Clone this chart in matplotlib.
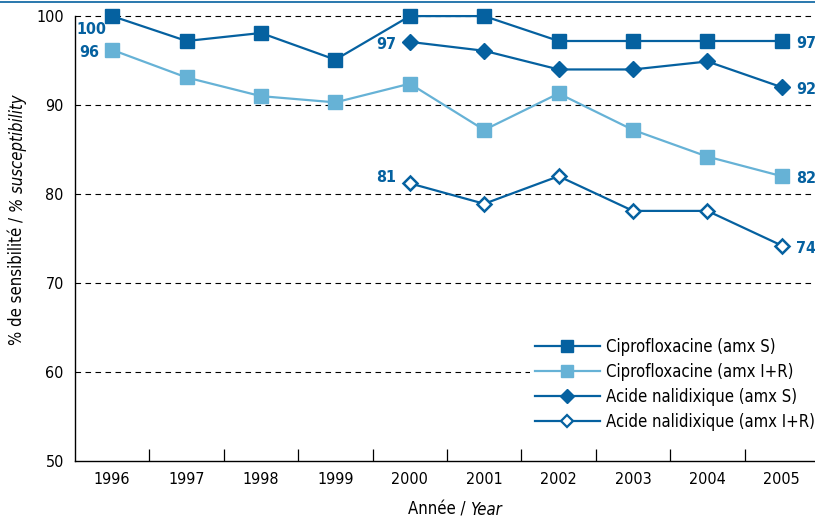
import matplotlib
matplotlib.use("Agg")
from matplotlib import pyplot as plt
from matplotlib.ticker import FixedLocator
from matplotlib.lines import Line2D
import numpy as np

years = ['1996', '1997', '1998', '1999', '2000', '2001', '2002', '2003', '2004', '2005']
cipro_s = [100, 97.2, 98.1, 95.1, 100, 100, 97.2, 97.2, 97.2, 97.2]
cipro_ir = [96.2, 93.1, 91.0, 90.3, 92.4, 87.2, 91.3, 87.2, 84.2, 82.0]
nali_years = ['2000', '2001', '2002', '2003', '2004', '2005']
nali_s = [97.1, 96.1, 94.0, 94.0, 94.9, 92.0]
nali_ir = [81.2, 78.9, 82.0, 78.1, 78.1, 74.2]
labels = ['Ciprofloxacine (amx S)', 'Ciprofloxacine (amx I+R)',
          'Acide nalidixique (amx S)', 'Acide nalidixique (amx I+R)']

dark = '#0561a0'
light = '#66b2d6'
plt.rcParams['font.family'] = ['DejaVu Sans']
plt.rcParams['font.stretch'] = 'condensed'

fig = plt.figure(figsize=(8.15, 5.19), dpi=100)
ax = fig.add_axes([0.092, 0.112, 0.913, 0.857])

x = np.arange(len(years))
xn = np.array([years.index(y) for y in nali_years])

ax.plot(x, cipro_s, color=dark, lw=1.6, marker='s', ms=10, clip_on=False, zorder=4)
ax.plot(x, cipro_ir, color=light, lw=1.6, marker='s', ms=10, clip_on=False, zorder=3)
ax.plot(xn, nali_s, color=dark, lw=1.6, marker='D', ms=8, clip_on=False, zorder=4)
ax.plot(xn, nali_ir, color=dark, lw=1.6, marker='D', ms=7.5, mfc='white', mew=1.8, clip_on=False, zorder=4)

ax.set_xlim(-0.5, 9.5)
ax.set_ylim(50, 100)
ax.set_yticks([50, 60, 70, 80, 90, 100])
ax.set_xticks(x)
ax.set_xticklabels(years)
ax.xaxis.set_minor_locator(FixedLocator(np.arange(0.5, 9, 1)))
ax.tick_params(axis='x', which='major', length=0, labelsize=11.5, pad=8)
ax.tick_params(axis='x', which='minor', direction='in', length=9, width=0.9)
ax.tick_params(axis='y', length=0, labelsize=11.5, pad=8)
for s in ['top', 'right']:
    ax.spines[s].set_visible(False)
ax.spines['left'].set_linewidth(1.0)
ax.spines['bottom'].set_linewidth(1.0)

for yv in [60, 70, 80, 90, 100]:
    ax.axhline(yv, color='black', lw=0.8, dashes=(5, 4), zorder=1, clip_on=False)

# value labels
lab = dict(color=dark, fontsize=11.5, fontweight='bold')
ax.annotate('100', (0, cipro_s[0]), xytext=(-26, -13), textcoords='offset points', **lab)
ax.annotate('96', (0, cipro_ir[0]), xytext=(-24, -5), textcoords='offset points', **lab)
ax.annotate('97', (xn[0], nali_s[0]), xytext=(-24, -5), textcoords='offset points', **lab)
ax.annotate('81', (xn[0], nali_ir[0]), xytext=(-24, 1), textcoords='offset points', **lab)
ax.annotate('97', (9, cipro_s[-1]), xytext=(10, -5), textcoords='offset points', **lab)
ax.annotate('92', (9, nali_s[-1]), xytext=(10, -5), textcoords='offset points', **lab)
ax.annotate('82', (9, cipro_ir[-1]), xytext=(10, -5), textcoords='offset points', **lab)
ax.annotate('74', (9, nali_ir[-1]), xytext=(10, -5), textcoords='offset points', **lab)

handles = [
    Line2D([], [], color=dark, lw=1.6, marker='s', ms=9),
    Line2D([], [], color=light, lw=1.6, marker='s', ms=9),
    Line2D([], [], color=dark, lw=1.6, marker='D', ms=7),
    Line2D([], [], color=dark, lw=1.6, marker='D', ms=6.5, mfc='white', mew=1.6),
]
leg = ax.legend(handles, labels, loc='center left', bbox_to_anchor=(0.611, 0.171), frameon=True,
                fontsize=12, handlelength=3.9, labelspacing=0.42, handletextpad=0.4,
                borderpad=0.3, borderaxespad=0, fancybox=False, framealpha=1)
leg.get_frame().set_edgecolor('none')
leg.get_frame().set_facecolor('white')
leg.set_zorder(5)

# axis labels with mixed styles
fig.text(0.022, 0.335, '% de sensibilité / ', rotation=90, fontsize=12, va='bottom', ha='center')
fig.canvas.draw()
t1 = fig.texts[0].get_window_extent()
fig.text(0.022, t1.y1 / fig.bbox.height, '% susceptibility', rotation=90, fontsize=12,
         style='italic', va='bottom', ha='center')
fig.text(0.577, 0.008, 'Année / ', fontsize=12, ha='right', va='baseline')
fig.text(0.577, 0.008, 'Year', fontsize=12, style='italic', ha='left', va='baseline')

# top rule
fig.add_artist(Line2D([0, 1], [0.996, 0.996], color=dark, lw=1.2, transform=fig.transFigure))

fig.savefig('out.png', dpi=100)
